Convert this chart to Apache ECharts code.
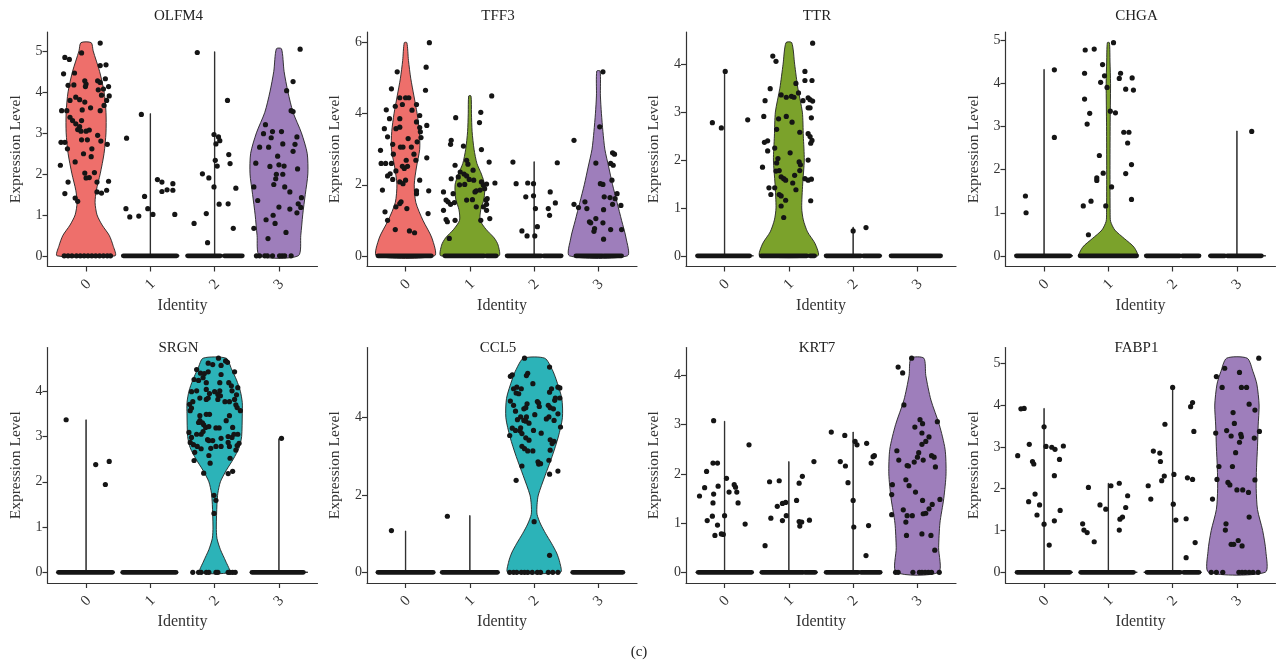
<!DOCTYPE html>
<html>
<head>
<meta charset="UTF-8">
<title>Violin plots</title>
<script src="https://cdn.jsdelivr.net/npm/echarts/dist/echarts.min.js"></script>
<style>
  html, body { margin: 0; padding: 0; background: #fff; }
  #main { width: 1277px; height: 667px; }
</style>
</head>
<body>
<div id="main"></div>
<script>
// ---- data ----
var genes = ['OLFM4', 'TFF3', 'TTR', 'CHGA', 'SRGN', 'CCL5', 'KRT7', 'FABP1'];
var clusters = ['0', '1', '2', '3'];
var clusterColors = ['#EE6F6B', '#7BA22B', '#2CB3B8', '#9E7EBB'];
var yTicks = [[0,1,2,3,4,5], [0,2,4,6], [0,1,2,3,4], [0,1,2,3,4,5],
              [0,1,2,3,4], [0,2,4], [0,1,2,3,4], [0,1,2,3,4,5]];

// violin outlines: [value, half width] per cluster
var olfm4Violin = [
  [[0,.45],[.25,.42],[.5,.36],[.75,.25],[1,.17],[1.3,.14],[1.6,.16],[2,.22],[2.5,.28],[3,.31],[3.5,.31],[4,.28],[4.5,.21],[5,.11],[5.2,.08]],
  [[0,.45],[.02,.003],[3.47,.003]],
  [[0,.45],[.02,.003],[4.98,.003]],
  [[0,.30],[.5,.34],[1,.37],[1.5,.41],[2,.45],[2.5,.44],[3,.35],[3.5,.22],[4,.14],[4.5,.08],[5.05,.04]]
];
var tff3Violin = [
  [[0,.45],[.5,.41],[1,.27],[1.5,.16],[2,.135],[2.5,.17],[3,.22],[3.5,.215],[4,.18],[4.5,.13],[5,.08],[5.5,.045],[6,.02]],
  [[0,.45],[.3,.44],[.5,.38],[.75,.25],[1,.16],[1.3,.17],[1.6,.22],[2,.23],[2.3,.18],[2.6,.11],[3,.065],[3.5,.035],[4,.025],[4.5,.018]],
  [[0,.45],[.02,.003],[2.65,.003]],
  [[0,.45],[.5,.43],[1,.36],[1.5,.29],[2,.22],[2.5,.16],[3,.10],[3.5,.07],[4,.047],[4.5,.031],[5.2,.026]]
];
var ttrViolin = [
  [[0,.45],[.02,.003],[3.85,.003]],
  [[0,.45],[.25,.41],[.5,.29],[.75,.225],[1,.20],[1.5,.215],[2,.24],[2.5,.225],[3,.21],[3.5,.14],[4,.09],[4.45,.045]],
  [[0,.45],[.02,.003],[.6,.003]],
  []
];
var chgaViolin = [
  [[0,.45],[.02,.003],[4.33,.003]],
  [[0,.45],[.2,.40],[.4,.25],[.6,.10],[.8,.035],[1,.028],[2,.026],[3,.028],[4,.034],[4.5,.026],[4.95,.016]],
  [],
  [[0,.45],[.02,.003],[2.9,.003]]
];
var srgnViolin = [
  [[0,.45],[.02,.003],[3.37,.003]],
  [],
  [[0,.23],[.25,.17],[.5,.09],[.75,.036],[1,.026],[1.5,.036],[1.75,.05],[2,.09],[2.25,.18],[2.5,.29],[2.75,.38],[3,.42],[3.5,.43],[3.75,.43],[4,.40],[4.25,.34],[4.5,.26],[4.73,.18]],
  [[0,.45],[.02,.003],[2.95,.003]]
];
var ccl5Violin = [
  [[0,.45],[.02,.003],[1.07,.003]],
  [[0,.45],[.02,.003],[1.47,.003]],
  [[0,.41],[.25,.40],[.5,.35],[.75,.27],[1,.18],[1.25,.10],[1.5,.045],[1.75,.045],[2,.065],[2.5,.17],[3,.28],[3.5,.375],[4,.44],[4.5,.43],[5,.34],[5.25,.28],[5.54,.165]],
  []
];
var krt7Violin = [
  [[0,.45],[.02,.003],[3.07,.003]],
  [[0,.45],[.02,.003],[2.25,.003]],
  [[0,.45],[.02,.003],[2.85,.003]],
  [[0,.33],[.5,.33],[1,.35],[1.5,.41],[2,.445],[2.5,.43],[3,.34],[3.5,.21],[4,.13],[4.35,.10]]
];
var fabp1Violin = [
  [[0,.45],[.02,.003],[3.92,.003]],
  [[0,.45],[.02,.003],[2.13,.003]],
  [[0,.45],[.02,.003],[4.42,.003]],
  [[0,.44],[.5,.45],[1,.40],[1.5,.32],[2,.30],[2.5,.305],[3,.32],[3.5,.33],[4,.345],[4.5,.31],[4.8,.25],[5.12,.16]]
];

// cells: [jitter offset, expression] per cluster
var olfm4Cells = [
  [[.22,5.19],[-.07,4.95],[-.33,4.84],[-.26,4.79],[.22,4.64],[.31,4.66],[-.35,4.44],[-.18,4.46],[.30,4.32],[.18,4.27],[.22,4.23],[-.02,4.27],[0,4.19],[-.01,4.13],[-.28,4.16],[-.19,4.17],[.35,4.13],[.27,4.07],[.19,4.05],[.24,3.92],[.36,3.9],[-.16,3.87],[-.10,3.81],[-.25,3.79],[.32,3.79],[.07,3.61],[-.02,3.75],[.28,3.67],[.22,3.54],[-.38,3.54],[-.30,3.54],[-.06,3.56],[-.25,3.38],[-.21,3.30],[-.07,3.30],[-.16,3.22],[-.10,3.15],[-.13,3.08],[-.08,3.04],[0,3.04],[.05,3.07],[-.39,2.77],[-.33,2.77],[-.29,2.61],[-.07,2.83],[.02,2.83],[.18,2.94],[.23,2.80],[.33,2.72],[.09,2.61],[-.04,2.49],[.08,2.42],[-.40,2.21],[-.17,2.29],[-.02,2.02],[.05,1.91],[0,1.90],[.13,2.03],[.17,1.80],[.35,1.82],[-.28,1.80],[.17,1.56],[.24,1.53],[.32,1.60],[-.33,1.52],[-.17,1.41],[-.13,1.33],
   [-.34,0],[-.28,0],[-.22,0],[-.15,0],[-.09,0],[-.03,0],[.03,0],[.09,0],[.15,0],[.21,0],[.27,0],[.33,0],[.38,0]],
  [[-.37,2.87],[-.14,3.45],[-.38,1.15],[-.32,.95],[-.18,.97],[-.09,1.45],[-.04,1.15],[.11,1.86],[.18,1.80],[.18,1.57],[.04,1.01],[.26,1.61],[.35,1.76],[.35,1.60],[.38,1.01]],
  [[-.27,4.96],[-.32,.79],[-.19,2.0],[-.13,1.03],[-.11,.32],[-.09,1.9],[-.01,2.96],[.01,2.33],[.02,2.73],[.04,2.19],[.06,2.9],[.08,2.81],[-.01,1.68],[.07,1.26],[.2,3.79],[.22,2.47],[.24,2.25],[.21,1.27],[.29,.67],[.33,1.65]],
  [[.33,5.04],[.22,4.25],[.12,4.03],[.19,3.54],[.22,3.52],[-.21,3.2],[-.24,2.98],[-.30,2.65],[-.16,2.65],[.06,2.73],[-.10,3.03],[.04,3.03],[-.12,2.88],[.28,2.9],[.25,2.72],[.22,2.55],[-.02,2.43],[0,2.22],[.08,2.19],[-.36,2.26],[-.14,2.18],[-.04,1.99],[.06,1.99],[-.08,1.74],[-.05,1.88],[.29,2.12],[-.39,1.68],[-.33,1.35],[.09,1.68],[.17,1.56],[.35,1.42],[.30,1.27],[.34,1.18],[.28,1.05],[0,1.19],[.17,1.14],[-.09,.99],[-.06,.79],[-.20,.88],[-.39,.67],[-.17,.42],[.11,.57],
   [-.35,0],[-.30,0],[-.22,0],[-.18,0],[-.10,0],[.01,0],[.05,0],[.09,0],[.19,0]]
];
var tff3Cells = [
  [[.37,6.0],[.32,5.31],[-.13,5.18],[.31,4.66],[-.22,4.70],[-.09,4.45],[0,4.45],[.05,4.45],[-.16,4.21],[-.05,4.26],[.17,4.26],[.10,4.10],[-.30,4.11],[-.25,3.86],[-.09,3.86],[.22,3.95],[.33,3.67],[.22,3.61],[.23,3.49],[-.15,3.58],[-.09,3.62],[.17,3.77],[.24,3.33],[-.33,3.58],[-.39,2.97],[-.38,2.60],[-.31,2.60],[-.22,2.60],[-.24,2.31],[-.28,2.25],[-.04,3.06],[.04,3.30],[.18,3.21],[.09,3.06],[.13,2.86],[.01,2.69],[-.02,2.46],[.03,2.52],[-.05,2.52],[.16,2.69],[.33,2.76],[-.28,3.35],[-.20,3.14],[-.19,2.86],[-.08,3.06],[-.09,2.08],[0,2.13],[-.04,2.03],[.22,2.13],[.17,1.83],[.36,1.83],[.17,1.75],[-.20,2.15],[-.15,2.39],[-.36,1.85],[-.09,1.47],[-.07,1.52],[-.15,1.38],[.02,1.33],[-.32,1.24],[-.28,1.0],[-.16,.74],[.06,.70],[.14,.65],[.35,1.19]],
  [[.34,4.50],[.17,4.04],[.15,3.75],[-.22,3.89],[-.29,3.25],[-.30,3.14],[-.10,3.09],[.18,2.99],[.30,2.64],[-.05,2.69],[-.03,2.58],[-.23,2.55],[.05,2.41],[-.15,2.36],[-.09,2.30],[-.05,2.25],[-.18,2.22],[-.01,2.15],[.06,2.13],[-.29,2.17],[.39,2.05],[.21,1.99],[.26,2.02],[.23,1.89],[.16,1.85],[.10,1.83],[.18,2.08],[-.16,2.0],[-.08,2.01],[-.26,1.75],[-.41,1.80],[-.37,1.57],[-.34,1.52],[-.30,1.45],[-.41,1.28],[-.37,1.02],[-.35,.96],[-.23,1.0],[-.24,1.50],[-.05,1.57],[.04,1.58],[.08,1.80],[.25,1.57],[.27,1.61],[.26,1.45],[.21,1.38],[.10,1.38],[.17,1.0],[.31,1.05],[.26,1.28],[-.32,.49]],
  [[-.33,2.64],[-.28,2.03],[-.10,2.05],[-.01,2.03],[-.13,1.66],[-.01,1.69],[.02,1.33],[.05,.82],[-.19,.70],[-.11,.56],[.01,.56],[.25,1.80],[.33,1.49],[.22,1.33],[.24,1.14],[.36,2.62]],
  [[.07,5.18],[.02,3.63],[-.38,3.25],[-.04,2.61],[.22,2.9],[.25,2.86],[.19,2.6],[.23,2.55],[.21,2.13],[.29,1.75],[.26,1.61],[.22,1.45],[.03,2.03],[.07,2.01],[.09,1.66],[.18,1.64],[.35,1.42],[-.38,1.45],[-.21,1.52],[-.31,1.36],[-.18,1.33],[.08,1.30],[-.14,.96],[-.12,.93],[.07,.93],[-.04,1.05],[-.06,.77],[-.07,.69],[.36,.74],[.19,.74],[.08,.47]]
];
var ttrCells = [
  [[.01,3.85],[-.19,2.78],[-.05,2.67],[.36,2.84]],
  [[.37,4.44],[-.25,4.17],[-.20,4.06],[.25,3.85],[.11,3.6],[.25,3.66],[.36,3.66],[.15,3.4],[-.12,3.36],[-.04,3.31],[.04,3.33],[.08,3.31],[.22,3.24],[.30,3.30],[.33,3.26],[.37,3.23],[-.29,3.49],[-.37,3.24],[-.39,2.91],[-.33,2.4],[-.38,2.37],[-.33,2.19],[-.41,1.85],[-.04,2.91],[-.16,2.86],[-.19,2.64],[.05,2.79],[.30,3.09],[.33,3.09],[.35,2.88],[.17,2.58],[.30,2.55],[.33,2.49],[.36,2.41],[.34,2.35],[-.22,2.25],[.02,2.15],[-.17,2.03],[-.19,1.94],[-.15,1.78],[-.20,1.77],[-.12,1.65],[-.08,1.61],[.16,1.96],[.18,1.9],[.30,2.0],[.09,1.68],[.06,1.52],[.11,1.38],[-.05,1.58],[.25,1.61],[.30,1.58],[.35,1.6],[.17,1.78],[-.31,1.42],[-.22,1.42],[-.28,1.28],[-.15,1.28],[-.12,1.25],[-.05,1.16],[-.12,1.04],[-.08,.80],[.34,1.15]],
  [[0,.52],[.2,.59]],
  []
];
var chgaCells = [
  [[-.29,1.39],[-.28,1.0],[.16,4.32],[.16,2.75]],
  [[.08,4.95],[-.36,4.78],[-.22,4.80],[-.09,4.44],[-.06,4.18],[-.37,4.24],[-.12,4.03],[-.02,3.91],[.19,4.24],[.17,4.12],[.37,4.13],[.27,3.87],[.39,3.85],[-.37,3.64],[-.29,3.31],[-.33,3.06],[.03,3.36],[.11,3.32],[.24,2.87],[.32,2.87],[.30,2.62],[-.14,2.33],[.36,2.12],[-.08,1.92],[.27,1.91],[-.18,1.81],[-.18,1.75],[.05,1.60],[-.27,1.27],[-.39,1.16],[-.04,1.16],[.36,1.31],[-.31,.49]],
  [],
  [[.23,2.89]]
];
var srgnCells = [
  [[-.31,3.37],[.15,2.38],[.36,2.45],[.30,1.94]],
  [],
  [[.06,4.73],[.17,4.67],[.20,4.64],[-.10,4.62],[-.03,4.59],[.10,4.57],[.31,4.43],[-.28,4.48],[-.22,4.40],[-.16,4.39],[-.10,4.43],[-.32,4.26],[-.25,4.24],[-.18,4.30],[-.13,4.19],[.10,4.37],[.08,4.19],[.22,4.19],[.26,4.12],[-.36,3.99],[-.28,4.01],[-.13,4.04],[-.08,3.95],[0,3.99],[.08,4.01],[.05,3.93],[.09,3.90],[.27,4.01],[.36,4.08],[.34,3.92],[-.34,3.77],[-.39,3.71],[-.36,3.63],[-.38,3.57],[-.23,3.85],[-.13,3.82],[-.10,3.85],[.05,3.82],[.16,3.77],[.23,3.77],[.31,3.82],[.35,3.64],[.33,3.70],[.40,3.57],[-.23,3.46],[-.13,3.49],[-.08,3.49],[-.23,3.35],[-.25,3.31],[-.19,3.30],[-.17,3.26],[.23,3.46],[.18,3.35],[-.40,3.09],[-.36,2.98],[-.14,3.20],[-.09,3.22],[.02,3.19],[.07,3.19],[.28,3.20],[.36,3.05],[.38,2.85],[.35,2.80],[-.28,3.05],[-.21,3.05],[-.18,3.11],[.21,3.0],[.27,2.98],[.30,3.05],[-.11,2.93],[-.09,2.91],[-.03,2.91],[.10,2.96],[.21,2.87],[.23,2.78],[-.38,2.87],[-.33,2.82],[-.27,2.78],[-.21,2.73],[-.31,2.65],[-.32,2.47],[-.06,2.74],[.02,2.78],[.10,2.78],[.33,2.70],[.24,2.52],[-.09,2.58],[-.07,2.41],[-.17,2.19],[.21,2.18],[.28,2.23],[-.01,1.70],[-.01,1.30],[.02,1.59],
   [-.34,0],[-.25,0],[-.21,0],[-.13,0],[-.09,0],[.02,0],[.05,0],[.21,0],[.24,0],[.28,0],[.32,0]],
  [[.04,2.96]]
];
var ccl5Cells = [
  [[-.22,1.08]],
  [[-.35,1.45]],
  [[-.15,5.54],[.24,5.31],[-.10,5.15],[-.12,5.09],[-.37,5.07],[-.34,5.11],[-.02,4.88],[-.32,4.75],[-.27,4.79],[-.20,4.75],[.27,4.75],[.37,4.79],[.40,4.77],[.24,4.66],[.40,4.51],[-.28,4.64],[-.24,4.62],[-.37,4.43],[-.32,4.32],[.05,4.42],[.07,4.38],[.08,4.29],[-.11,4.36],[-.16,4.23],[-.13,4.26],[.22,4.32],[.25,4.26],[.30,4.23],[.32,4.45],[.33,4.51],[-.29,4.17],[.37,4.10],[.01,4.08],[-.21,4.02],[-.12,4.02],[-.26,3.95],[-.16,3.93],[-.13,3.91],[-.08,3.86],[.19,3.97],[.23,4.02],[.31,3.93],[.41,3.76],[-.38,3.54],[-.21,3.74],[-.22,3.66],[-.19,3.59],[-.01,3.67],[.11,3.6],[-.34,3.73],[-.29,3.67],[.25,3.43],[.31,3.39],[.28,3.33],[-.13,3.48],[-.08,3.42],[-.15,3.20],[-.10,3.14],[-.19,3.26],[.25,3.16],[-.02,3.14],[-.19,2.75],[.10,2.81],[.07,2.80],[.23,2.90],[.06,2.86],[.24,2.54],[.37,2.62],[-.28,2.38],[0,1.31],[.24,.44],
   [-.38,0],[-.32,0],[-.27,0],[-.20,0],[-.15,0],[-.10,0],[-.03,0],[.05,0],[.10,0],[.22,0],[.29,0],[.37,0]],
  []
];
var krt7Cells = [
  [[-.17,3.08],[.38,2.59],[-.18,2.22],[-.11,2.22],[-.28,2.05],[.03,1.91],[-.31,1.72],[-.10,1.75],[.15,1.78],[.17,1.73],[.19,1.63],[.07,1.63],[-.17,1.59],[-.39,1.55],[-.18,1.41],[.21,1.41],[-.19,1.14],[0,1.15],[-.27,1.05],[-.11,.96],[.32,.98],[-.15,.75],[-.05,.78],[-.02,.77]],
  [[.39,2.25],[.21,1.95],[-.30,1.84],[-.15,1.86],[.16,1.81],[-.18,1.34],[-.10,1.40],[-.05,1.42],[.12,1.46],[-.28,1.10],[-.04,1.15],[-.10,1.05],[.16,1.03],[.17,.94],[.20,1.02],[.32,1.06],[-.37,.54]],
  [[-.34,2.85],[-.13,2.78],[.03,2.66],[.06,2.59],[.21,2.62],[-.20,2.25],[-.12,2.16],[-.08,1.82],[0,1.46],[.01,.92],[.28,2.22],[.31,2.35],[.33,2.37],[.24,.95],[.20,.34]],
  [[-.09,4.35],[-.30,4.17],[-.23,4.05],[-.21,3.40],[.31,3.06],[.04,3.10],[.08,3.02],[-.04,2.95],[.07,2.83],[.18,2.75],[.13,2.66],[.07,2.60],[.02,2.43],[0,2.34],[.09,2.28],[.22,2.37],[.26,2.34],[-.32,2.47],[-.29,2.28],[-.16,2.17],[-.14,2.16],[-.05,2.24],[.28,2.14],[-.39,1.78],[-.18,1.88],[-.13,1.76],[-.03,1.63],[-.40,1.58],[.08,1.46],[.35,1.48],[.23,1.38],[.13,1.20],[.09,1.19],[.18,1.29],[-.18,1.02],[-.16,1.15],[-.22,1.27],[-.40,1.17],[-.08,1.15],[.21,.75],[.07,.78],[-.17,.75],[.27,.45],
   [-.34,0],[-.30,0],[-.07,0],[.03,0],[.07,0],[.12,0],[.17,0],[.22,0],[.34,0]]
];
var fabp1Cells = [
  [[-.36,3.91],[-.31,3.92],[0,3.48],[-.23,3.06],[.03,3.01],[.12,2.99],[.17,2.94],[.30,3.02],[-.41,2.79],[.24,2.70],[-.18,2.65],[-.16,2.59],[.16,2.31],[-.14,1.87],[-.24,1.69],[-.07,1.61],[-.11,1.37],[.25,1.48],[.16,1.23],[0,1.15],[.08,.65]],
  [[-.31,2.03],[.04,2.07],[.17,2.13],[.30,1.83],[-.13,1.61],[-.04,1.51],[.27,1.55],[.18,1.27],[.22,1.32],[.17,1.01],[-.40,1.16],[-.38,1.01],[-.33,.95],[-.22,.73]],
  [[0,4.42],[-.38,2.07],[-.34,1.75],[-.30,2.9],[-.20,2.85],[-.19,2.65],[-.13,2.30],[-.17,2.19],[-.12,3.54],[.02,2.34],[.01,1.63],[.05,1.25],[.21,1.28],[.21,.35],[.23,2.26],[.31,2.22],[.28,3.96],[.31,4.06],[.33,3.37],[.35,.71]],
  [[.34,5.12],[-.32,4.68],[-.19,4.88],[.04,4.78],[-.23,4.42],[.07,4.42],[.15,4.42],[.19,4.02],[.28,3.88],[-.06,3.82],[-.04,3.56],[-.33,3.33],[-.16,3.39],[-.09,3.26],[.06,3.30],[.07,3.24],[.04,3.11],[.35,3.37],[.27,3.21],[-.02,2.86],[-.07,2.53],[-.28,2.53],[-.14,2.15],[-.11,2.09],[0,1.97],[.09,1.97],[.18,1.91],[.28,2.21],[-.38,1.75],[.19,1.32],[-.17,1.16],[-.18,1.01],[.02,.76],[-.09,.67],[-.05,.67],[.08,.63],[-.31,2.22],
   [-.40,0],[-.32,0],[-.22,0],[.03,0],[.08,0],[.13,0],[.19,0],[.25,0],[.33,0]]
];

// stretches of the x axis where zero-valued cells overlap into a solid band
var olfm4Zero = [[], [[-.42,.41]], [[-.42,.09],[.15,.43]], []];
var tff3Zero  = [[[-.43,.40]], [[-.39,.22],[.26,.41]], [[-.42,.11],[.15,.42]], [[-.35,.06],[.09,.36]]];
var ttrZero   = [[[-.42,.39]], [[-.43,.28],[.33,.40]], [[-.42,.12],[.16,.41]], [[-.41,.36]]];
var chgaZero  = [[[-.43,.40]], [[-.44,.44]], [[-.41,.11],[.15,.41]], [[-.41,-.19],[-.15,.38]]];
var srgnZero  = [[[-.43,.41]], [[-.43,.40]], [], [[-.42,.38]]];
var ccl5Zero  = [[[-.43,.43]], [[-.43,.43]], [], [[-.40,.38]]];
var krt7Zero  = [[[-.41,.42]], [[-.42,.22],[.25,.41]], [[-.42,.08],[.12,.42]], []];
var fabp1Zero = [[[-.42,.40]], [[-.43,.39]], [[-.40,.12],[.17,.41]], []];

var violins = [olfm4Violin, tff3Violin, ttrViolin, chgaViolin, srgnViolin, ccl5Violin, krt7Violin, fabp1Violin];
var cells = [olfm4Cells, tff3Cells, ttrCells, chgaCells, srgnCells, ccl5Cells, krt7Cells, fabp1Cells];
var zeroBands = [olfm4Zero, tff3Zero, ttrZero, chgaZero, srgnZero, ccl5Zero, krt7Zero, fabp1Zero];

// ---- layout ----
var FONT = 'Liberation Serif';
var INK = '#333';
var gridLefts = [47.5, 367, 686, 1005.5];
var rowTops = [32, 347.5];
var rowHeights = [234.5, 235.5];
var titleY = [16, 348];
var gridW = 270;

var myChart = echarts.init(document.getElementById('main'));
var grids = [], xAxes = [], yAxes = [], series = [], graphics = [];

genes.forEach(function (gene, i) {
  var row = Math.floor(i / 4), col = i % 4;
  grids.push({ left: gridLefts[col], top: rowTops[row], width: gridW, height: rowHeights[row] });

  // top of the panel = highest cell or outline, padded like ggplot (5%)
  var top = 0;
  cells[i].forEach(function (list) { list.forEach(function (p) { top = Math.max(top, p[1]); }); });
  violins[i].forEach(function (prof) { prof.forEach(function (p) { top = Math.max(top, p[0]); }); });

  xAxes.push({
    gridIndex: i, type: 'value', min: -0.6, max: 3.6,
    axisLine: { show: true, onZero: false, lineStyle: { color: INK, width: 1.2 } },
    axisTick: { show: true, customValues: [0, 1, 2, 3], length: 5, lineStyle: { color: INK, width: 1.2 } },
    axisLabel: { customValues: [0, 1, 2, 3], rotate: 45, margin: 18, align: 'center', verticalAlign: 'middle',
      formatter: function (v) { return clusters[v]; },
      fontFamily: FONT, fontSize: 15, color: INK },
    splitLine: { show: false },
    name: 'Identity', nameLocation: 'middle', nameGap: 31,
    nameTextStyle: { fontFamily: FONT, fontSize: 16, color: INK }
  });
  yAxes.push({
    gridIndex: i, type: 'value', min: -0.05 * top, max: 1.05 * top,
    axisLine: { show: true, onZero: false, lineStyle: { color: INK, width: 1.2 } },
    axisTick: { show: true, customValues: yTicks[i], length: 5, lineStyle: { color: INK, width: 1.2 } },
    axisLabel: { customValues: yTicks[i], margin: 5, fontFamily: FONT, fontSize: 14, color: INK },
    splitLine: { show: false },
    name: 'Expression Level', nameLocation: 'middle', nameGap: 24, nameRotate: 90,
    nameTextStyle: { fontFamily: FONT, fontSize: 15.5, color: INK }
  });

  // violins
  series.push({
    type: 'custom', xAxisIndex: i, yAxisIndex: i, silent: true,
    data: [0, 1, 2, 3].map(function (c) { return [c]; }),
    renderItem: (function (profiles) {
      return function (params, api) {
        var c = api.value(0);
        var prof = profiles[c];
        if (!prof.length) return null;
        var pts = [];
        prof.forEach(function (p) { pts.push(api.coord([c + p[1], p[0]])); });
        for (var k = prof.length - 1; k >= 0; k--) pts.push(api.coord([c - prof[k][1], prof[k][0]]));
        var full = prof.length > 3;
        return {
          type: 'polygon',
          shape: { points: pts, smooth: full ? 0.25 : 0 },
          style: { fill: full ? clusterColors[c] : 'none', stroke: '#222', lineWidth: 0.9 }
        };
      };
    })(violins[i])
  });

  // overlapping zero cells
  var bandData = [];
  zeroBands[i].forEach(function (runs, c) { runs.forEach(function (r) { bandData.push([c, r[0], r[1]]); }); });
  series.push({
    type: 'custom', xAxisIndex: i, yAxisIndex: i, silent: true,
    data: bandData,
    renderItem: function (params, api) {
      var c = api.value(0);
      var a = api.coord([c + api.value(1), 0]);
      var b = api.coord([c + api.value(2), 0]);
      return { type: 'line', shape: { x1: a[0], y1: a[1], x2: b[0], y2: b[1] },
        style: { stroke: '#151515', lineWidth: 4.8, lineCap: 'round' } };
    }
  });

  // individual cells
  var pts = [];
  cells[i].forEach(function (list, c) { list.forEach(function (p) { pts.push([c + p[0], p[1]]); }); });
  series.push({
    type: 'scatter', xAxisIndex: i, yAxisIndex: i, silent: true,
    symbolSize: 5.2, data: pts,
    itemStyle: { color: '#151515', opacity: 1 }
  });

  graphics.push({
    type: 'text', x: gridLefts[col] + 131, y: titleY[row], silent: true,
    style: { text: gene, font: '15px "' + FONT + '"', fill: '#222', textAlign: 'center', textVerticalAlign: 'middle' }
  });
});

graphics.push({
  type: 'text', x: 639, y: 652, silent: true,
  style: { text: '(c)', font: '15px "' + FONT + '"', fill: '#222', textAlign: 'center', textVerticalAlign: 'middle' }
});

var option = {
  animation: false,
  backgroundColor: '#fff',
  grid: grids,
  xAxis: xAxes,
  yAxis: yAxes,
  series: series,
  graphic: graphics
};
myChart.setOption(option);
</script>
</body>
</html>
